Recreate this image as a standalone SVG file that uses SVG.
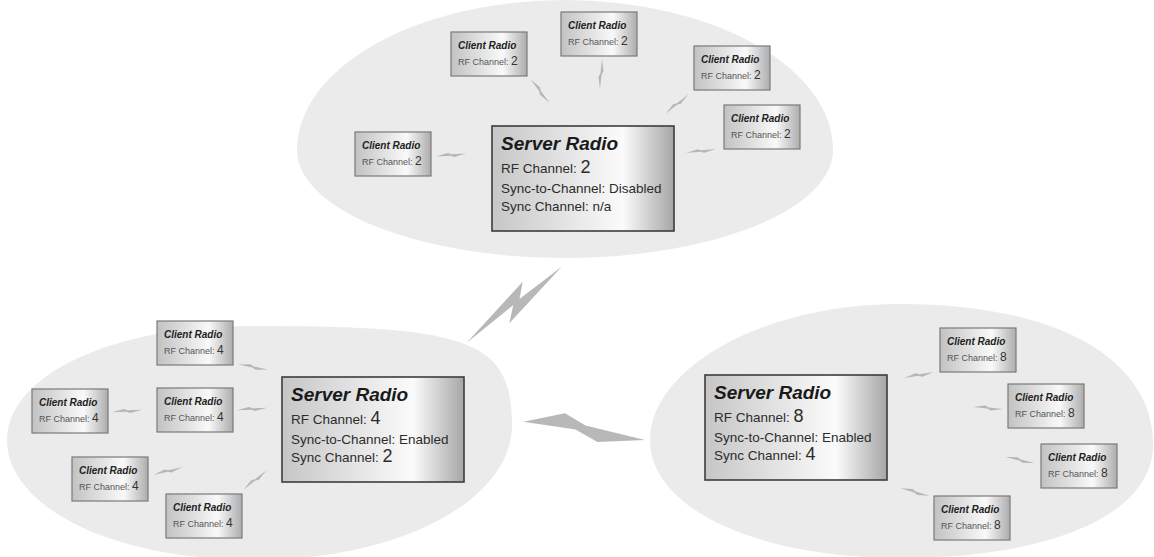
<svg xmlns="http://www.w3.org/2000/svg" width="1154" height="557" viewBox="0 0 1154 557">
<defs>
<linearGradient id="gs" x1="0" y1="0" x2="1" y2="0">
<stop offset="0" stop-color="#c6c6c6"/><stop offset="0.72" stop-color="#fbfbfb"/><stop offset="1" stop-color="#a6a6a6"/>
</linearGradient>
<linearGradient id="gc" x1="0" y1="0" x2="1" y2="0">
<stop offset="0" stop-color="#c2c2c2"/><stop offset="0.68" stop-color="#f9f9f9"/><stop offset="1" stop-color="#adadad"/>
</linearGradient>
<path id="sb" d="M-15,0 L-3,-2.3 L0.6,-0.6 L15,0 L3,2.3 L-0.6,0.6 Z"/>
<style>
.blob{fill:#ebebeb}
.srv{fill:url(#gs);stroke:#3c3c3c;stroke-width:1.6}
.cli{fill:url(#gc);stroke:#7a7a7a;stroke-width:1.2}
.st{font-family:"Liberation Sans",Arial,sans-serif;font-style:italic;font-weight:bold;font-size:19px;fill:#1a1a1a}
.sl{font-family:"Liberation Sans",Arial,sans-serif;font-size:13.5px;fill:#2c2c2c}
.sn{font-size:18px}
.ct{font-family:"Liberation Sans",Arial,sans-serif;font-style:italic;font-weight:bold;font-size:10px;fill:#222}
.cl{font-family:"Liberation Sans",Arial,sans-serif;font-size:9px;fill:#555}
.cn{font-size:12px;fill:#333}
.bolt{fill:#b8b8b8}
.sbolt{fill:#b6b6b6}
</style>
</defs>
<rect width="1154" height="557" fill="#ffffff"/>
<g id="areas">
<path class="blob" d="M297,150 A268,150 0 0 1 833,150 A268,108 0 0 1 297,150 Z"/>
<path class="blob" d="M7,440 C7,376 110,326 250,326 C465,326 512,338 512,425 C512,500 400,560 255,560 C110,560 7,506 7,440 Z"/>
<path class="blob" d="M650,440 C650,370 760,304 900,304 C1060,304 1153,360 1153,445 C1153,515 1050,558 900,558 C760,558 650,510 650,440 Z"/>
</g>
<g id="connectors">
<path class="bolt" d="M466.7,342.7 L522.7,281.7 L519.5,299 L561.7,266.7 L509.3,323.3 L513.3,305 Z"/>
<path class="bolt" d="M523.3,421.7 L565,413.3 L585.5,425.5 L645,440 L597.5,442 L575.5,429.5 Z"/>
<use href="#sb" class="sbolt" transform="translate(540,91) rotate(51)"/>
<use href="#sb" class="sbolt" transform="translate(601,74) rotate(94)"/>
<use href="#sb" class="sbolt" transform="translate(677,104) rotate(-41)"/>
<use href="#sb" class="sbolt" transform="translate(701,151) rotate(-8)"/>
<use href="#sb" class="sbolt" transform="translate(451,155) rotate(-6)"/>
<use href="#sb" class="sbolt" transform="translate(253,367) rotate(10)"/>
<use href="#sb" class="sbolt" transform="translate(127,411) rotate(-5)"/>
<use href="#sb" class="sbolt" transform="translate(252,409) rotate(-5)"/>
<use href="#sb" class="sbolt" transform="translate(168,471) rotate(-15)"/>
<use href="#sb" class="sbolt" transform="translate(255,480) rotate(-40)"/>
<use href="#sb" class="sbolt" transform="translate(919,375) rotate(-12)"/>
<use href="#sb" class="sbolt" transform="translate(988,408) rotate(4)"/>
<use href="#sb" class="sbolt" transform="translate(1020,460) rotate(12)"/>
<use href="#sb" class="sbolt" transform="translate(915,492) rotate(14)"/>
</g>
<g id="server-top">
<rect class="srv" x="492" y="126" width="182" height="105"/>
<text class="st" x="501" y="150">Server Radio</text>
<text class="sl" x="501" y="173">RF Channel: <tspan class="sn">2</tspan></text>
<text class="sl" x="501" y="193">Sync-to-Channel: Disabled</text>
<text class="sl" x="501" y="211">Sync Channel: n/a</text>
</g>
<g id="server-left">
<rect class="srv" x="282" y="377" width="182" height="105"/>
<text class="st" x="291" y="401">Server Radio</text>
<text class="sl" x="291" y="424">RF Channel: <tspan class="sn">4</tspan></text>
<text class="sl" x="291" y="444">Sync-to-Channel: Enabled</text>
<text class="sl" x="291" y="462">Sync Channel: <tspan class="sn">2</tspan></text>
</g>
<g id="server-right">
<rect class="srv" x="705" y="375" width="182" height="105"/>
<text class="st" x="714" y="399">Server Radio</text>
<text class="sl" x="714" y="422">RF Channel: <tspan class="sn">8</tspan></text>
<text class="sl" x="714" y="442">Sync-to-Channel: Enabled</text>
<text class="sl" x="714" y="460">Sync Channel: <tspan class="sn">4</tspan></text>
</g>
<g id="client-t1"><rect class="cli" x="451" y="32" width="76" height="44"/><text class="ct" x="458" y="49">Client Radio</text><text class="cl" x="458" y="65">RF Channel: <tspan class="cn">2</tspan></text></g>
<g id="client-t2"><rect class="cli" x="561" y="12" width="76" height="44"/><text class="ct" x="568" y="29">Client Radio</text><text class="cl" x="568" y="45">RF Channel: <tspan class="cn">2</tspan></text></g>
<g id="client-t3"><rect class="cli" x="694" y="46" width="76" height="44"/><text class="ct" x="701" y="63">Client Radio</text><text class="cl" x="701" y="79">RF Channel: <tspan class="cn">2</tspan></text></g>
<g id="client-t4"><rect class="cli" x="724" y="105" width="76" height="44"/><text class="ct" x="731" y="122">Client Radio</text><text class="cl" x="731" y="138">RF Channel: <tspan class="cn">2</tspan></text></g>
<g id="client-t5"><rect class="cli" x="355" y="132" width="76" height="44"/><text class="ct" x="362" y="149">Client Radio</text><text class="cl" x="362" y="165">RF Channel: <tspan class="cn">2</tspan></text></g>
<g id="client-l1"><rect class="cli" x="157" y="321" width="76" height="44"/><text class="ct" x="164" y="338">Client Radio</text><text class="cl" x="164" y="354">RF Channel: <tspan class="cn">4</tspan></text></g>
<g id="client-l2"><rect class="cli" x="32" y="389" width="76" height="44"/><text class="ct" x="39" y="406">Client Radio</text><text class="cl" x="39" y="422">RF Channel: <tspan class="cn">4</tspan></text></g>
<g id="client-l3"><rect class="cli" x="157" y="388" width="76" height="44"/><text class="ct" x="164" y="405">Client Radio</text><text class="cl" x="164" y="421">RF Channel: <tspan class="cn">4</tspan></text></g>
<g id="client-l4"><rect class="cli" x="72" y="457" width="76" height="44"/><text class="ct" x="79" y="474">Client Radio</text><text class="cl" x="79" y="490">RF Channel: <tspan class="cn">4</tspan></text></g>
<g id="client-l5"><rect class="cli" x="166" y="494" width="76" height="44"/><text class="ct" x="173" y="511">Client Radio</text><text class="cl" x="173" y="527">RF Channel: <tspan class="cn">4</tspan></text></g>
<g id="client-r1"><rect class="cli" x="940" y="328" width="76" height="44"/><text class="ct" x="947" y="345">Client Radio</text><text class="cl" x="947" y="361">RF Channel: <tspan class="cn">8</tspan></text></g>
<g id="client-r2"><rect class="cli" x="1008" y="384" width="76" height="44"/><text class="ct" x="1015" y="401">Client Radio</text><text class="cl" x="1015" y="417">RF Channel: <tspan class="cn">8</tspan></text></g>
<g id="client-r3"><rect class="cli" x="1041" y="444" width="76" height="44"/><text class="ct" x="1048" y="461">Client Radio</text><text class="cl" x="1048" y="477">RF Channel: <tspan class="cn">8</tspan></text></g>
<g id="client-r4"><rect class="cli" x="934" y="496" width="76" height="44"/><text class="ct" x="941" y="513">Client Radio</text><text class="cl" x="941" y="529">RF Channel: <tspan class="cn">8</tspan></text></g>
</svg>
